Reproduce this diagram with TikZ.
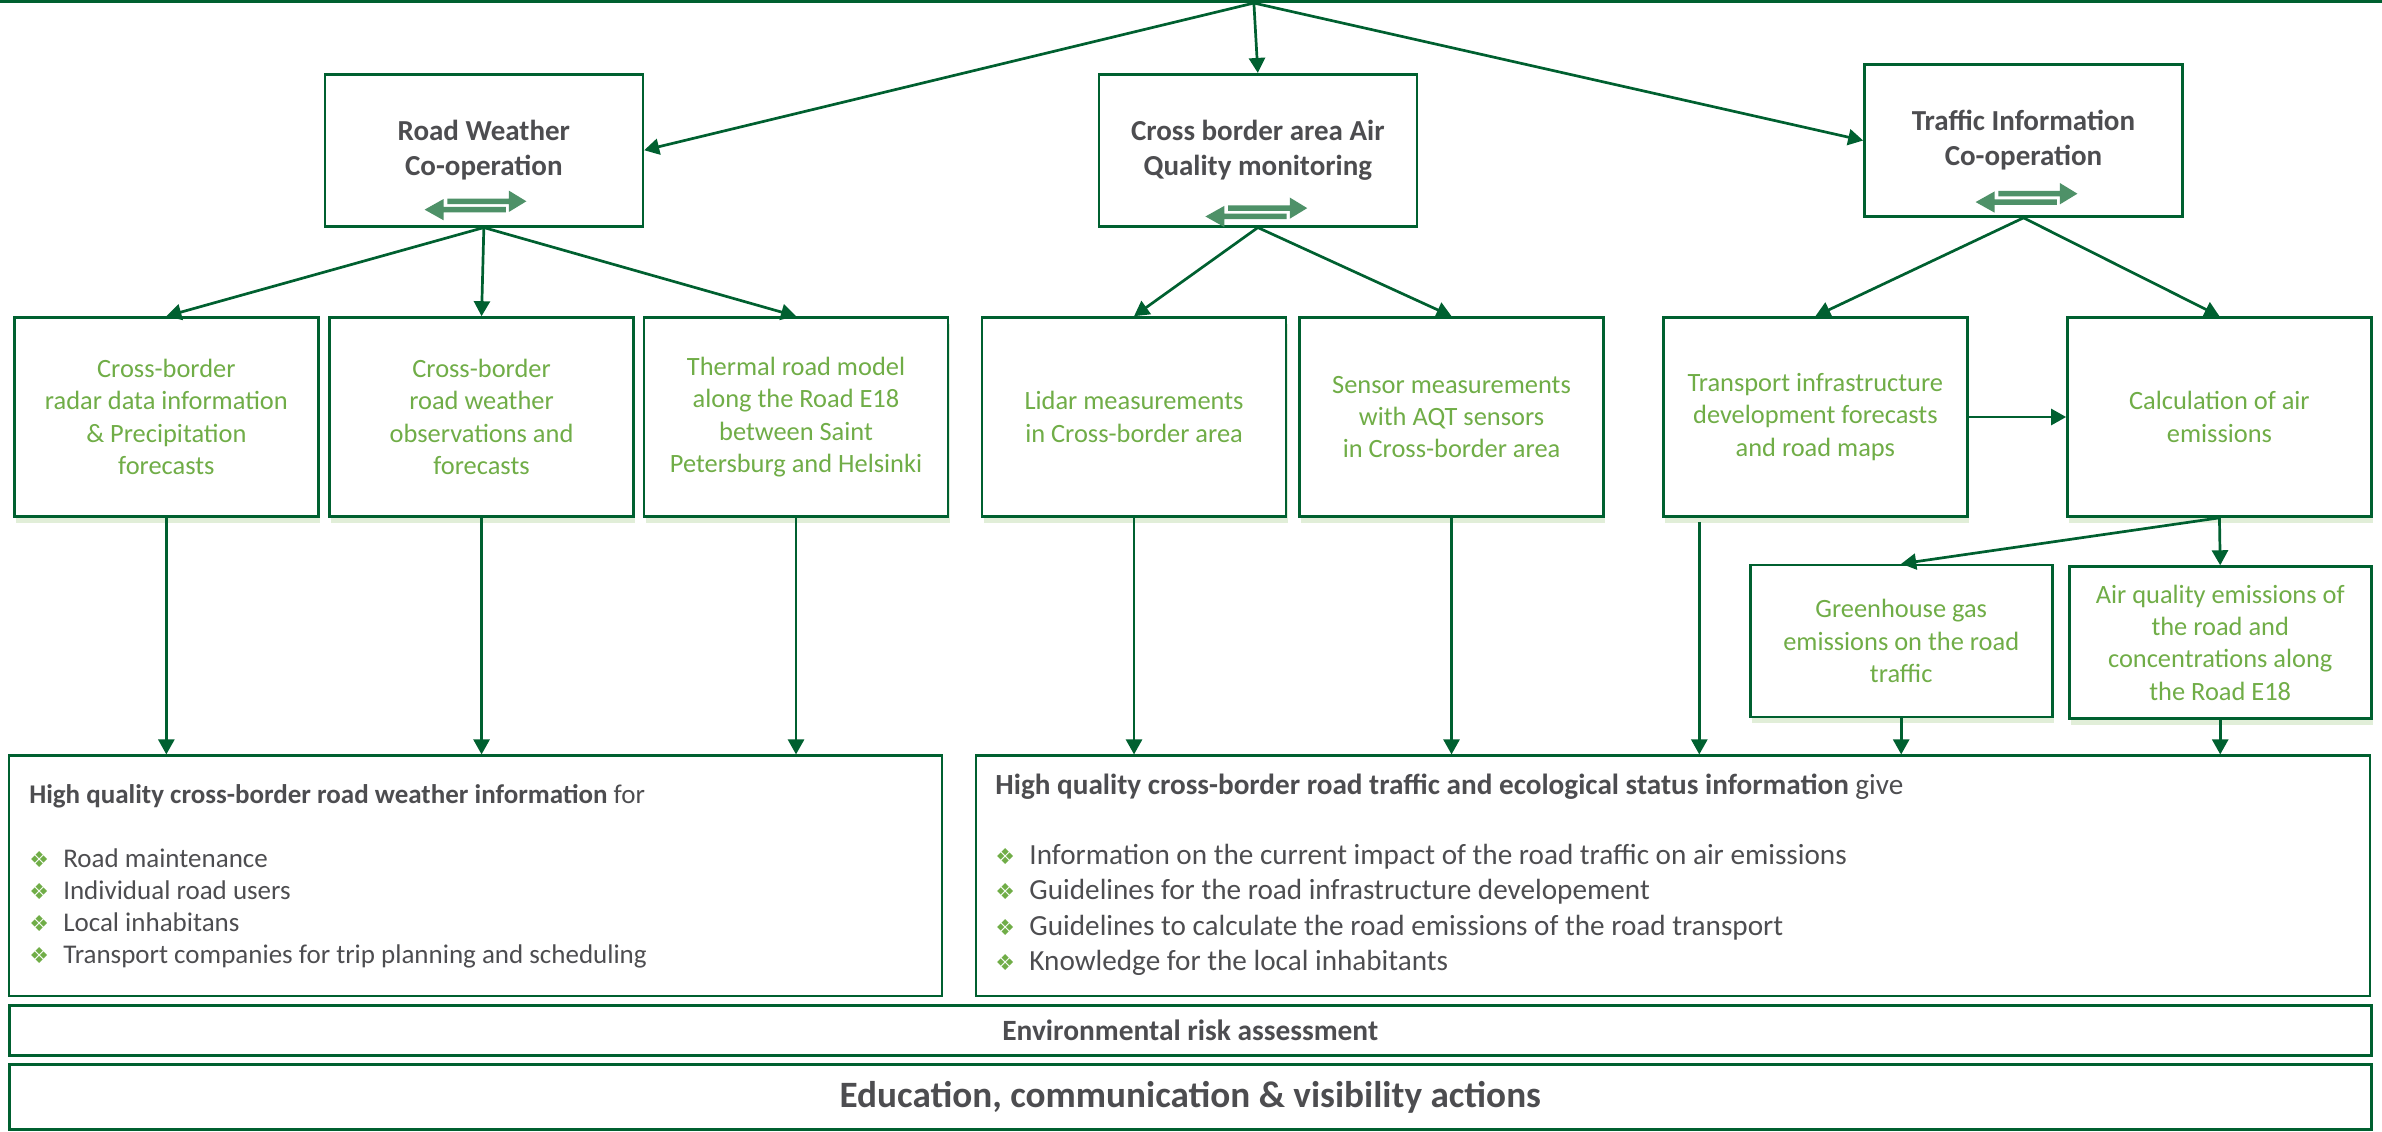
\documentclass[tikz,border=0pt]{standalone}
\usepackage{fontspec}
\setmainfont{Carlito}
\newfontfamily\bulletfont{DejaVu Sans}
\usepackage{tikz}
\usetikzlibrary{shapes,arrows,arrows.meta,shadows}
\definecolor{dgreen}{RGB}{0,96,48}
\definecolor{lgreen}{RGB}{112,173,71}
\definecolor{mgreen}{RGB}{78,145,104}
\definecolor{tgray}{RGB}{77,77,80}

% exchange icon below the theme titles
\newcommand{\swapicon}[2]{%
  \begin{scope}[shift={(#1,#2)}]
    \fill[mgreen] (-18.5,-4.3) -- (22,-4.3) -- (22,-9.5) -- (33.5,-2.5) -- (22,4.5) -- (22,-0.7) -- (-18.5,-0.7) -- cycle;
    \fill[mgreen] (20,1.2) -- (-21,1.2) -- (-21,-4) -- (-33.5,3) -- (-21,10) -- (-21,4.8) -- (20,4.8) -- cycle;
  \end{scope}}
\newcommand{\bitem}[1]{\makebox[17pt][l]{\bulletfont\fontsize{11}{11}\selectfont\textcolor{lgreen}{❖}}#1}

\begin{document}
\begin{tikzpicture}[x=0.7595pt, y=-0.7595pt]
    % Define block styles
    \tikzstyle{theme} = [rectangle, draw=dgreen, line width=1.3pt, fill=white, text=tgray,
        align=center, font=\fontsize{14.5}{17.5}\selectfont\bfseries, minimum width=159pt, minimum height=76pt]
    \tikzstyle{task} = [rectangle, draw=dgreen, line width=1.3pt, fill=white, text=lgreen,
        align=center, font=\fontsize{13.2}{16.2}\selectfont, minimum width=152pt, minimum height=99.5pt,
        drop shadow={shadow xshift=0.8pt, shadow yshift=-3pt, fill=lgreen!70, opacity=0.3}]
    \tikzstyle{output} = [task, minimum width=151pt, minimum height=76pt]
    \tikzstyle{infobox} = [rectangle, draw=dgreen, line width=1.3pt, minimum height=120.2pt]
    \tikzstyle{band} = [rectangle, draw=dgreen, line width=1.5pt, minimum width=1181pt, text=tgray]
    \tikzstyle{line} = [draw=dgreen, line width=1.35pt, -{Triangle[length=7.5pt, width=8pt]}]

    \useasboundingbox (0,0) rectangle (1568,745);
    \draw[dgreen, line width=1.6pt] (0,1.1) -- (1568,1.1);
    \coordinate (top) at (825.4,2);

    % Place nodes
    \node [theme] (rw) at (318.5,98.9) {Road Weather\\Co-operation};
    \node [theme] (aq) at (828,98.9) {Cross border area Air\\Quality monitoring};
    \node [theme] (ti) at (1332,92.5) {Traffic Information\\Co-operation};
    \swapicon{313}{135}
    \swapicon{827}{139.5}
    \swapicon{1334}{130}

    \node [task] (radar) at (109.5,274.5) {Cross-border\\radar data information\\\& Precipitation\\forecasts};
    \node [task] (obs) at (317,274.5) {Cross-border\\road weather\\observations and\\forecasts};
    \node [task] (thermal) at (524,274.5) {Thermal road model\\along the Road E18\\between Saint\\Petersburg and Helsinki};
    \node [task] (lidar) at (746.5,274.5) {Lidar measurements\\in Cross-border area};
    \node [task] (sensor) at (955.5,274.5) {Sensor measurements\\with AQT sensors\\in Cross-border area};
    \node [task] (infra) at (1195,274.5) {Transport infrastructure\\development forecasts\\and road maps};
    \node [task] (calc) at (1461,274.5) {Calculation of air\\emissions};

    \node [output] (ghg) at (1251.5,422) {Greenhouse gas\\emissions on the road\\traffic};
    \node [output] (aqe) at (1461.5,423) {Air quality emissions of\\the road and\\concentrations along\\the Road E18};

    \node [infobox, minimum width=466.3pt] (rwinfo) at (313,576.6) {};
    \node [infobox, minimum width=696.8pt] (ecoinfo) at (1101.25,576.6) {};
    \node [anchor=base west, align=left, inner sep=0, text=tgray, font=\fontsize{13.5}{16}\selectfont] (rwlist) at (19,634)
        {\textbf{High quality cross-border road weather information} for\\[16pt]
         \bitem{Road maintenance}\\
         \bitem{Individual road users}\\
         \bitem{Local inhabitans}\\
         \bitem{Transport companies for trip planning and scheduling}};
    \node [anchor=base west, align=left, inner sep=0, text=tgray, font=\fontsize{14.6}{17.7}\selectfont] (ecolist) at (655,639)
        {\textbf{High quality cross-border road traffic and ecological status information} give\\[17.5pt]
         \bitem{Information on the current impact of the road traffic on air emissions}\\
         \bitem{Guidelines for the road infrastructure developement}\\
         \bitem{Guidelines to calculate the road emissions of the road transport}\\
         \bitem{Knowledge for the local inhabitants}};

    \node [band, minimum height=24.7pt, font=\fontsize{14.7}{17}\selectfont\bfseries] (risk) at (783.5,678.25) {Environmental risk assessment};
    \node [band, minimum height=32.3pt, font=\fontsize{18.6}{22}\selectfont\bfseries] (edu) at (783.5,722.25) {Education, communication \& visibility actions};

    % Draw edges
    \path [line] (top) -- (rw.east);
    \path [line] (top) -- (aq.north);
    \path [line] (top) -- (ti.west);
    \foreach \t in {radar,obs,thermal} \path [line] (rw.south) -- (\t.north);
    \foreach \t in {lidar,sensor} \path [line] (aq.south) -- (\t.north);
    \foreach \t in {infra,calc} \path [line] (ti.south) -- (\t.north);
    \path [line] (infra) -- (calc);
    \path [line] (calc.south) -- (ghg.north);
    \path [line] (calc.south) -- (aqe.north);
    \foreach \t in {radar,obs,thermal} \path [line] (\t.south) -- (\t.south |- rwinfo.north);
    \foreach \t in {lidar,sensor,ghg,aqe} \path [line] (\t.south) -- (\t.south |- ecoinfo.north);
    \coordinate (tfoot) at (1118.6,343.6);
    \path [line] (tfoot) -- (tfoot |- ecoinfo.north);
\end{tikzpicture}
\end{document}
